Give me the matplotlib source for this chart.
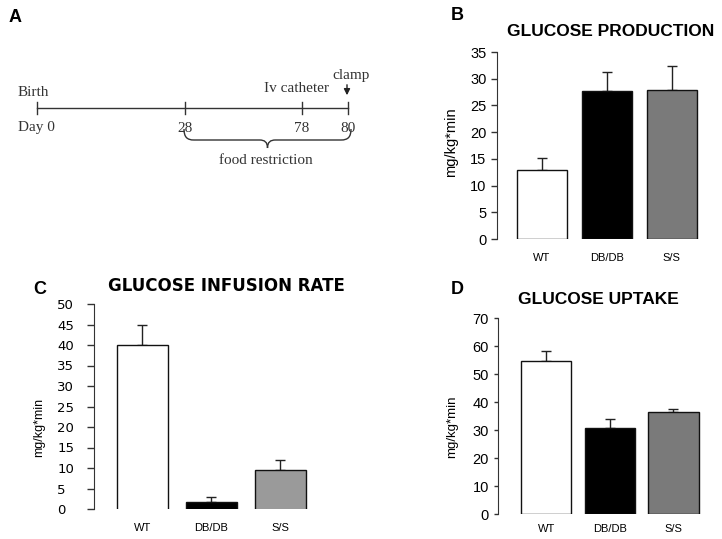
import matplotlib.pyplot as plt
from matplotlib.path import Path
from matplotlib.patches import PathPatch

plt.rcParams['font.family'] = ['Liberation Sans', 'DejaVu Sans']

# timeline (panel A)
days = ["Day 0", "28", "78", "80"]
day_pos = [37, 185, 302, 348]  # schematic spacing, not to scale
events = ["Birth", "Iv catheter", "clamp"]

# bar panels
groups = ["WT", "DB/DB", "S/S"]
prod_mean = [13.0, 27.7, 27.9]
prod_err = [2.2, 3.5, 4.4]
infusion_mean = [40.0, 1.7, 9.5]
infusion_err = [4.8, 1.3, 2.5]
uptake_mean = [54.5, 30.8, 36.5]
uptake_err = [3.8, 3.0, 1.0]

W, H = 722, 539
fig = plt.figure(figsize=(W / 100, H / 100), dpi=100)


def px(x, y):
    return x / W, 1 - y / H


# ---- panel A: timeline drawn in pixel-like coordinates
axa = fig.add_axes([0, 0, 1, 1], zorder=-1)
axa.set_xlim(0, W)
axa.set_ylim(H, 0)
axa.axis("off")
serif = "Liberation Serif"
tc = "#333333"
line_y = 108
axa.plot([day_pos[0], day_pos[-1]], [line_y, line_y], color=tc, lw=1)
for xp, lab in zip(day_pos, days):
    axa.plot([xp, xp], [line_y - 6, line_y + 6], color=tc, lw=1)
    ha = "left" if lab.startswith("Day") else "center"
    xt = 18 if lab.startswith("Day") else xp
    axa.text(xt, line_y + 20, lab, ha=ha, va="center", family=serif,
             fontsize=11, color=tc)
axa.text(18, 93, events[0], ha="left", va="center", family=serif,
         fontsize=11, color=tc)
axa.text(297, 88, events[1], ha="center", va="center", family=serif,
         fontsize=11, color=tc)
axa.text(351, 76, events[2], ha="center", va="center", family=serif,
         fontsize=11, color=tc)
axa.annotate("", xy=(347, 98), xytext=(347, 82),
             arrowprops=dict(arrowstyle="-|>", color="#222222", lw=1,
                             mutation_scale=9))
# curly brace under 28..80
x0, x1 = day_pos[1] - 1, day_pos[-1] + 3
xm = (x0 + x1) / 2
verts = [(x0, 129), (x0, 137), (x0 + 3, 140), (x0 + 10, 140),
         (xm - 8, 140),
         (xm - 3, 140), (xm, 142), (xm, 148),
         (xm, 142), (xm + 3, 140), (xm + 8, 140),
         (x1 - 10, 140),
         (x1 - 3, 140), (x1, 137), (x1, 129)]
codes = [Path.MOVETO, Path.CURVE4, Path.CURVE4, Path.CURVE4,
         Path.LINETO,
         Path.CURVE4, Path.CURVE4, Path.CURVE4,
         Path.CURVE4, Path.CURVE4, Path.CURVE4,
         Path.LINETO,
         Path.CURVE4, Path.CURVE4, Path.CURVE4]
axa.add_patch(PathPatch(Path(verts, codes), fill=False, lw=1, ec=tc))
axa.text(xm - 2, 160, "food restriction", ha="center", va="center",
         family=serif, fontsize=11, color=tc)

# panel letters
for lab, (x, y) in zip("ABCD", [(15, 17), (457, 16), (40, 289), (457, 290)]):
    fig.text(*px(x, y), lab, ha="center", va="center", fontsize=13,
             fontweight="bold")


def bar_panel(rect, means, errs, colors, ymax, step, xlim, width, title,
              title_xy, title_fs, lab_xy, lab_fs, font, tick_fs, tick_len,
              tick_pad, xlab_pad, bottom=0, left_labels=False):
    l, t, r, b = rect
    ax = fig.add_axes([l / W, 1 - b / H, (r - l) / W, (b - t) / H])
    xs = range(len(groups))
    heights = [m - bottom for m in means]
    ax.bar(xs, heights, bottom=bottom, width=width, color=colors,
           edgecolor="#111111", linewidth=1, zorder=2)
    ax.errorbar(xs, means, yerr=[[0] * len(errs), errs], fmt="none",
                ecolor="#222222", elinewidth=1, capsize=3.5, capthick=1,
                zorder=1)
    ax.set_xlim(*xlim)
    ax.set_ylim(0, ymax)
    ax.set_yticks(range(0, ymax + 1, step))
    for s in ["top", "right", "bottom"]:
        ax.spines[s].set_visible(False)
    ax.spines["left"].set_color("#333333")
    ax.spines["left"].set_bounds(0, ymax)
    ax.tick_params(axis="y", direction="out", length=tick_len, width=1,
                   color="#333333", labelsize=tick_fs, pad=tick_pad)
    for tl in ax.get_yticklabels():
        tl.set_family(font)
        if left_labels:
            tl.set_horizontalalignment("left")
    ax.set_xticks(list(xs))
    ax.set_xticklabels(groups, fontsize=8, family="Liberation Sans")
    ax.tick_params(axis="x", length=0, pad=xlab_pad)
    ax.set_ylabel("mg/kg*min", fontsize=lab_fs, family="Liberation Sans")
    ax.yaxis.set_label_coords(*lab_xy)
    ax.patch.set_alpha(0)
    fig.text(*px(*title_xy), title, ha="center", va="center",
             fontsize=title_fs, fontweight="bold", family=font)
    return ax


bar_panel((497, 52, 701, 239), prod_mean, prod_err,
          ["white", "black", "#7a7a7a"], 35, 5, (-0.69, 2.45), 0.77,
          "GLUCOSE PRODUCTION", (611, 31), 12.5, (-0.19, 0.52), 10.5,
          "Liberation Sans", 10.5, 4, 3.5, 10)

bar_panel((94, 304, 315, 509), infusion_mean, infusion_err,
          ["white", "black", "#9a9a9a"], 50, 5, (-0.70, 2.5), 0.74,
          "GLUCOSE INFUSION RATE", (226, 286), 12, (-0.22, 0.40), 9,
          "DejaVu Sans", 9.5, 5, 21.5, 10, bottom=-0.4, left_labels=True)

bar_panel((498, 318, 702, 514), uptake_mean, uptake_err,
          ["white", "black", "#7a7a7a"], 70, 10, (-0.76, 2.45), 0.79,
          "GLUCOSE UPTAKE", (598, 300), 12.5, (-0.196, 0.444), 9.5,
          "Liberation Sans", 10.5, 3, 3.5, 7)

fig.savefig("out.png", dpi=100)
